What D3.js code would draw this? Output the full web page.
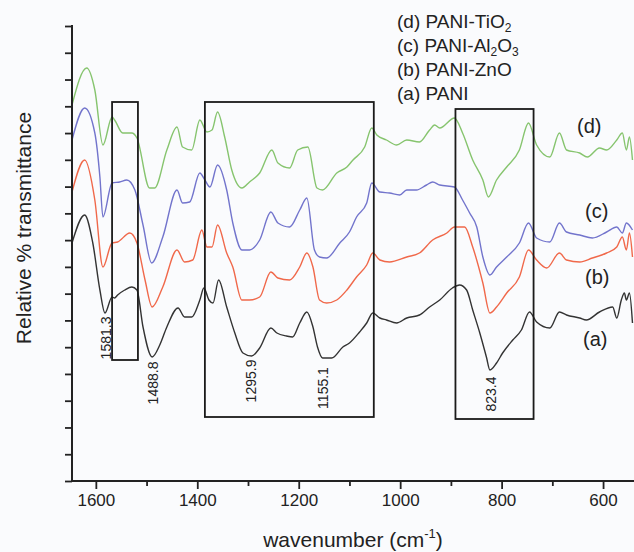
<!DOCTYPE html>
<html><head><meta charset="utf-8">
<script src="https://cdn.jsdelivr.net/npm/d3@7"></script>
<style>html,body{margin:0;padding:0;background:#fafbfd;} svg{display:block;font-family:"Liberation Sans",Arial,Helvetica,sans-serif;}</style>
</head><body><svg id="c" width="634" height="552"></svg>
<script>
// ---- data ----
const wnDomain = [1647, 539];
const yDomain = [0, 455];               // relative % transmittance, arbitrary units
const yTickCount = 17;
const xTicksMajor = [1600, 1400, 1200, 1000, 800, 600];
const xTicksMinor = [1500, 1300, 1100, 900, 700];
const xTitle = "wavenumber (cm";
const yTitle = "Relative % transmittance";

const pani = [[1647,238],[1622,266],[1606,238],[1592,191],[1582,168],[1568,184],[1563,183],[1557,186],[1543,191],[1529,194],[1519,191],[1507,154],[1489,124],[1474,136],[1460,154],[1438,173],[1425,164],[1411,164],[1395,181],[1387,193],[1377,181],[1369,178],[1358,201],[1342,174],[1326,148],[1310,128],[1293,125],[1277,133],[1255,153],[1243,148],[1224,145],[1212,144],[1198,158],[1184,169],[1172,154],[1163,134],[1153,123],[1135,123],[1113,134],[1100,138],[1080,149],[1066,158],[1054,168],[1040,163],[1027,161],[1007,158],[987,163],[962,166],[942,174],[922,181],[897,193],[883,196],[869,191],[857,171],[843,148],[830,124],[823,111],[810,118],[798,128],[778,141],[761,151],[745,169],[731,159],[705,153],[686,169],[672,166],[646,163],[633,161],[607,169],[581,174],[573,163],[564,181],[558,188],[554,181],[548,188],[542,158]];
const zno = [[1647,289],[1622,321],[1602,281],[1586,214],[1568,238],[1557,239],[1533,248],[1519,238],[1503,201],[1489,174],[1468,194],[1440,231],[1425,219],[1409,221],[1391,251],[1381,234],[1371,234],[1360,256],[1342,228],[1330,214],[1312,181],[1297,181],[1277,184],[1255,209],[1241,203],[1218,201],[1198,214],[1184,228],[1172,214],[1159,181],[1145,178],[1125,181],[1105,191],[1086,204],[1066,216],[1054,228],[1040,221],[1021,219],[987,224],[962,228],[936,241],[908,248],[893,254],[873,254],[857,234],[837,198],[823,168],[810,174],[790,188],[765,204],[747,231],[731,221],[711,213],[686,228],[672,221],[646,219],[621,223],[593,228],[573,234],[562,244],[554,231],[548,248],[542,224]];
const al2o3 = [[1647,341],[1622,373],[1602,348],[1592,304],[1586,264],[1568,298],[1553,299],[1539,301],[1523,291],[1507,256],[1490,218],[1468,244],[1440,291],[1429,278],[1415,279],[1395,308],[1385,301],[1375,294],[1360,316],[1342,291],[1330,258],[1312,231],[1297,231],[1277,241],[1255,269],[1241,258],[1218,254],[1198,271],[1184,283],[1169,231],[1159,224],[1145,223],[1119,238],[1100,249],[1086,264],[1066,278],[1056,298],[1040,289],[1021,288],[1001,286],[987,291],[968,291],[948,296],[936,299],[922,296],[893,294],[877,281],[863,268],[849,254],[837,224],[823,206],[810,214],[790,224],[765,238],[747,258],[731,243],[705,239],[686,258],[672,249],[646,246],[621,243],[593,249],[573,254],[562,248],[554,258],[542,251]];
const tio2 = [[1647,376],[1618,413],[1602,391],[1586,336],[1568,364],[1563,361],[1547,348],[1529,348],[1519,343],[1494,293],[1484,293],[1460,331],[1440,354],[1429,334],[1411,331],[1395,361],[1381,349],[1371,351],[1360,369],[1346,344],[1332,311],[1312,293],[1297,299],[1277,308],[1253,331],[1241,318],[1218,313],[1202,331],[1182,334],[1164,293],[1153,291],[1125,308],[1105,314],[1093,321],[1070,334],[1056,353],[1046,346],[1027,341],[1007,336],[987,341],[962,339],[942,351],[932,356],[922,353],[893,363],[877,348],[857,321],[837,301],[826,284],[810,301],[790,314],[765,331],[747,358],[731,336],[705,324],[686,348],[672,331],[646,328],[631,324],[607,333],[593,331],[573,341],[562,348],[554,331],[548,344],[542,321]];

const seriesData = [pani, zno, al2o3, tio2];
const seriesTags = ["(a)", "(b)", "(c)", "(d)"];
const legendRows = [
  [["(d) PANI-TiO",0],["2",1]],
  [["(c) PANI-Al",0],["2",1],["O",0],["3",1]],
  [["(b) PANI-ZnO",0]],
  [["(a) PANI",0]]
];
const peakWn = [1581.3, 1488.8, 1295.9, 1155.1, 823.4];
const boxWn = [[1568,1517],[1385,1052],[891,737]];
const boxY = [[379,121],[379,64],[372,62]];

// ---- styles / layout ----
const colors = ["#333333", "#f0684a", "#7274cc", "#86c46e"];
const tagY = [346, 284, 218, 133];
const tagX = [583, 585, 585, 577];
const peakLabelY = [338, 383, 381, 388, 394];
const legendX = 397, legendY0 = 28, legendDy = 24;

const svg = d3.select("#c");
svg.append("rect").attr("width",634).attr("height",552).attr("fill","#fafbfd");

const x = d3.scaleLinear().domain(wnDomain).range([72, 634]);
const y = d3.scaleLinear().domain(yDomain).range([481, 26]);

// curves
const line = d3.line().x(d => x(d[0])).y(d => y(d[1])).curve(d3.curveMonotoneX);
seriesData.forEach((s, i) => {
  svg.append("path").datum(s).attr("d", line).attr("fill","none")
    .attr("stroke", colors[i]).attr("stroke-width", 1.4).attr("stroke-linejoin","round");
});

// boxes
boxWn.forEach((b, i) => {
  svg.append("rect").attr("x", x(b[0])).attr("y", y(boxY[i][0]))
    .attr("width", x(b[1]) - x(b[0])).attr("height", y(boxY[i][1]) - y(boxY[i][0]))
    .attr("fill","none").attr("stroke","#1a1a1a").attr("stroke-width",1.8);
});

// axes
const xAxis = d3.axisBottom(x).tickValues(xTicksMajor).tickSize(8).tickPadding(5).tickFormat(d3.format("d"));
const gx = svg.append("g").attr("transform","translate(0,481)").call(xAxis);
gx.select(".domain").remove();
gx.selectAll(".tick line").attr("stroke","#222").attr("stroke-width",1.8);
gx.selectAll(".tick text").attr("font-size",17).attr("fill","#222").attr("font-family","inherit");
const xAxisMinor = d3.axisBottom(x).tickValues(xTicksMinor).tickSize(5).tickFormat("");
const gxm = svg.append("g").attr("transform","translate(0,481)").call(xAxisMinor);
gxm.select(".domain").remove();
gxm.selectAll(".tick line").attr("stroke","#222").attr("stroke-width",1.8);

const yTicks = d3.range(0, yTickCount + 1).map(i => yDomain[0] + i * (yDomain[1]-yDomain[0]) / yTickCount);
const yAxis = d3.axisLeft(y).tickValues(yTicks).tickSize(7).tickFormat("");
const gy = svg.append("g").attr("transform","translate(72,0)").call(yAxis);
gy.select(".domain").remove();
gy.selectAll(".tick line").attr("stroke","#222").attr("stroke-width",1.8);

svg.append("line").attr("x1",72).attr("x2",72).attr("y1",y(yDomain[1])-1).attr("y2",481.9)
  .attr("stroke","#222").attr("stroke-width",2);
svg.append("line").attr("x1",71).attr("x2",634).attr("y1",481).attr("y2",481)
  .attr("stroke","#222").attr("stroke-width",2);

// axis titles
const xt = svg.append("text").attr("x",353).attr("y",547).attr("text-anchor","middle")
  .attr("font-size",21).attr("fill","#222");
xt.append("tspan").text(xTitle);
xt.append("tspan").text("-1").attr("font-size",13).attr("dy",-9);
xt.append("tspan").text(")").attr("dy",9);

svg.append("text").attr("transform","translate(31,228) rotate(-90)").attr("text-anchor","middle")
  .attr("font-size",21).attr("fill","#222").text(yTitle);

// peak labels
peakWn.forEach((w, i) => {
  svg.append("text").attr("transform",`translate(${x(w)+6},${peakLabelY[i]}) rotate(-90)`)
    .attr("text-anchor","middle").attr("font-size",14).attr("fill","#222")
    .text(d3.format(".1f")(w));
});

// series tags
seriesTags.forEach((t, i) => {
  svg.append("text").attr("x", tagX[i]).attr("y", tagY[i]).attr("font-size",20)
    .attr("fill","#222").text(t);
});

// legend
legendRows.forEach((row, r) => {
  const t = svg.append("text").attr("x", legendX).attr("y", legendY0 + r*legendDy)
    .attr("font-size",19).attr("fill","#222");
  let prevSub = 0;
  row.forEach(([str, sub]) => {
    const ts = t.append("tspan").text(str);
    const dy = (sub ? 4 : 0) - (prevSub ? 4 : 0);
    if (dy) ts.attr("dy", dy);
    if (sub) ts.attr("font-size",12);
    prevSub = sub;
  });
});
</script></body></html>
